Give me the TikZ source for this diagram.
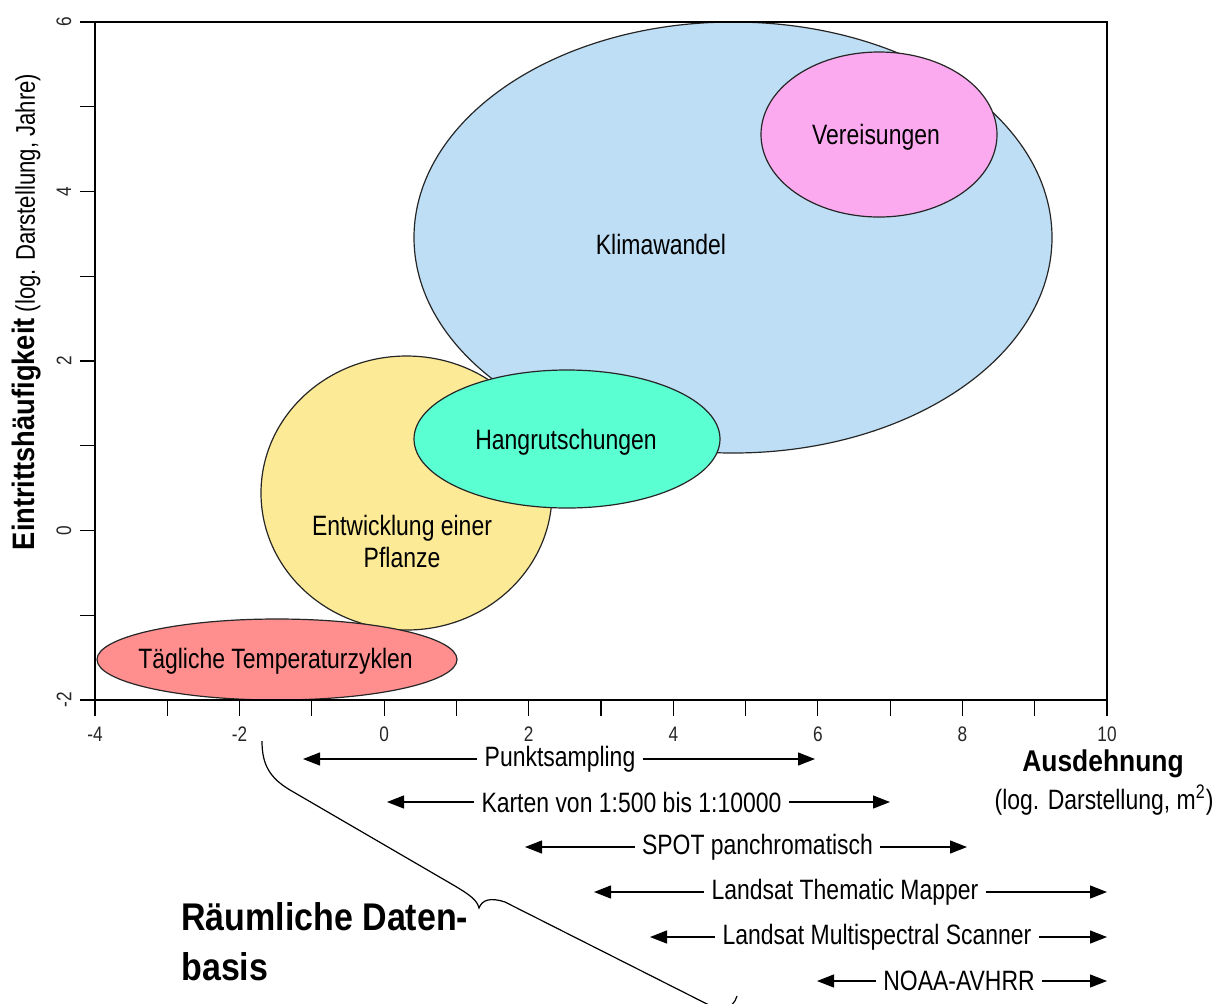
\documentclass[tikz,border=0pt]{standalone}
\usepackage{fontspec}
\usetikzlibrary{arrows.meta,shapes.geometric}
\newfontfamily\lab{Liberation Sans}[FakeStretch=0.82]
\newfontfamily\bfl{Liberation Sans}[FakeStretch=0.88]
\definecolor{cKlima}{RGB}{190,222,245}
\definecolor{cVereis}{RGB}{252,170,240}
\definecolor{cPflanze}{RGB}{252,234,150}
\definecolor{cHang}{RGB}{90,255,210}
\definecolor{cTemp}{RGB}{255,143,143}
\begin{document}
\begin{tikzpicture}[x=0.5pt,y=-0.5pt,
  blob/.style={ellipse, draw=black!85, line width=0.6pt, inner sep=0pt},
  lbl/.style={font=\lab\fontsize{14}{16}\selectfont, inner sep=0pt},
  rng/.style={font=\lab\fontsize{14}{16}\selectfont, inner xsep=3.5pt, inner ysep=0pt},
  rarrow/.style={-{Triangle[length=8.5pt,width=6.5pt]}, line width=0.6pt},
  tickline/.style={line width=0.6pt},
  ticklbl/.style={font=\lab\fontsize{10.5}{12}\selectfont, text=black!85, inner sep=0pt}
]
\useasboundingbox (0,0) rectangle (1221,1003);

% ellipses
\node[blob, fill=cKlima, minimum width=319pt, minimum height=215.5pt] (klima) at (733,237.5) {};
\node[blob, fill=cVereis, minimum width=118pt, minimum height=82.5pt] (vereis) at (879,134.5) {};
\node[blob, fill=cPflanze, minimum width=145.5pt, minimum height=137pt] (pflanze) at (406.5,493) {};
\node[blob, fill=cHang, minimum width=153pt, minimum height=69pt] (hang) at (567,439) {};
\node[blob, fill=cTemp, minimum width=180pt, minimum height=40.5pt] (temp) at (277,659.5) {};

\node[lbl] (tKlima) at (661,244) {Klimawandel};
\node[lbl] (tVereis) at (876,137) {Vereisungen};
\node[lbl, align=center] (tPflanze) at (402,541) {Entwicklung einer\\Pflanze};
\node[lbl] (tHang) at (566,442) {Hangrutschungen};
\node[lbl] (tTemp) at (275.5,661) {Tägliche Temperaturzyklen};

% frame
\draw[line width=0.7pt] (95,22) rectangle (1107,700);
\foreach \k in {0,...,8} \draw[tickline] (80,{22+\k*84.75}) -- (95,{22+\k*84.75});
\foreach \k in {0,...,14} \draw[tickline] ({95+\k*72.286},700) -- ({95+\k*72.286},716);
\foreach \v/\k in {6/0,4/2,2/4,0/6,-2/8}
  \node[ticklbl, rotate=90] (yt\k) at (64,{22+\k*84.75}) {\v};
\foreach \v/\k in {-4/0,-2/2,0/4,2/6,4/8,6/10,8/12,10/14}
  \node[ticklbl] (xt\k) at ({95+\k*72.286},734) {\v};

% axis titles
\node[rotate=90, inner sep=0pt] (ylab) at (27,312)
  {{\bfl\bfseries\fontsize{15.5}{18}\selectfont Eintrittshäufigkeit}{\lab\fontsize{13.5}{16}\selectfont{} (log. Darstellung, Jahre)}};
\node[inner sep=0pt, font=\bfl\bfseries\fontsize{15}{17}\selectfont] (xlab) at (1103,764) {Ausdehnung};
\node[inner sep=0pt, font=\lab\fontsize{14}{16}\selectfont] (xlab2) at (1104,800) {(log. Darstellung, m\textsuperscript{2})};

% range arrows
\node[rng] (r1) at (560,759) {Punktsampling};
\coordinate (r1l) at (303,759); \coordinate (r1r) at (815,759);
\node[rng] (r2) at (631.5,802) {Karten von 1:500 bis 1:10000};
\coordinate (r2l) at (387,802); \coordinate (r2r) at (890,802);
\node[rng] (r3) at (757.5,847) {SPOT panchromatisch};
\coordinate (r3l) at (525,847); \coordinate (r3r) at (967,847);
\node[rng] (r4) at (845,892) {Landsat Thematic Mapper};
\coordinate (r4l) at (594,892); \coordinate (r4r) at (1107,892);
\node[rng] (r5) at (877,937) {Landsat Multispectral Scanner};
\coordinate (r5l) at (650,937); \coordinate (r5r) at (1107,937);
\node[rng] (r6) at (959,981) {NOAA-AVHRR};
\coordinate (r6l) at (817,981); \coordinate (r6r) at (1107,981);
\foreach \r in {r1,r2,r3,r4,r5,r6}{
  \draw[rarrow] (\r.west) -- (\r l);
  \draw[rarrow] (\r.east) -- (\r r);
}

% brace
\begin{scope}
\clip (0,0) rectangle (1221,1003);
\coordinate (bA) at (262,741);
\coordinate (bTip) at (479,908);
\coordinate (bB) at (737,996);
\draw[line width=0.6pt] (bA) .. controls (262,765) and (270,778) .. (290,790)
  -- (455,886) .. controls (470,895) and (477,900) .. (bTip)
  .. controls (482,900) and (490,897) .. (505,902)
  -- (705,1003) .. controls (720,1011) and (733,1010) .. (bB);
\end{scope}

\node[anchor=west, align=left, inner sep=0pt, font=\bfl\bfseries\fontsize{19.3}{25}\selectfont] (rd) at (181,942) {Räumliche Daten-\\basis};
\end{tikzpicture}
\end{document}
